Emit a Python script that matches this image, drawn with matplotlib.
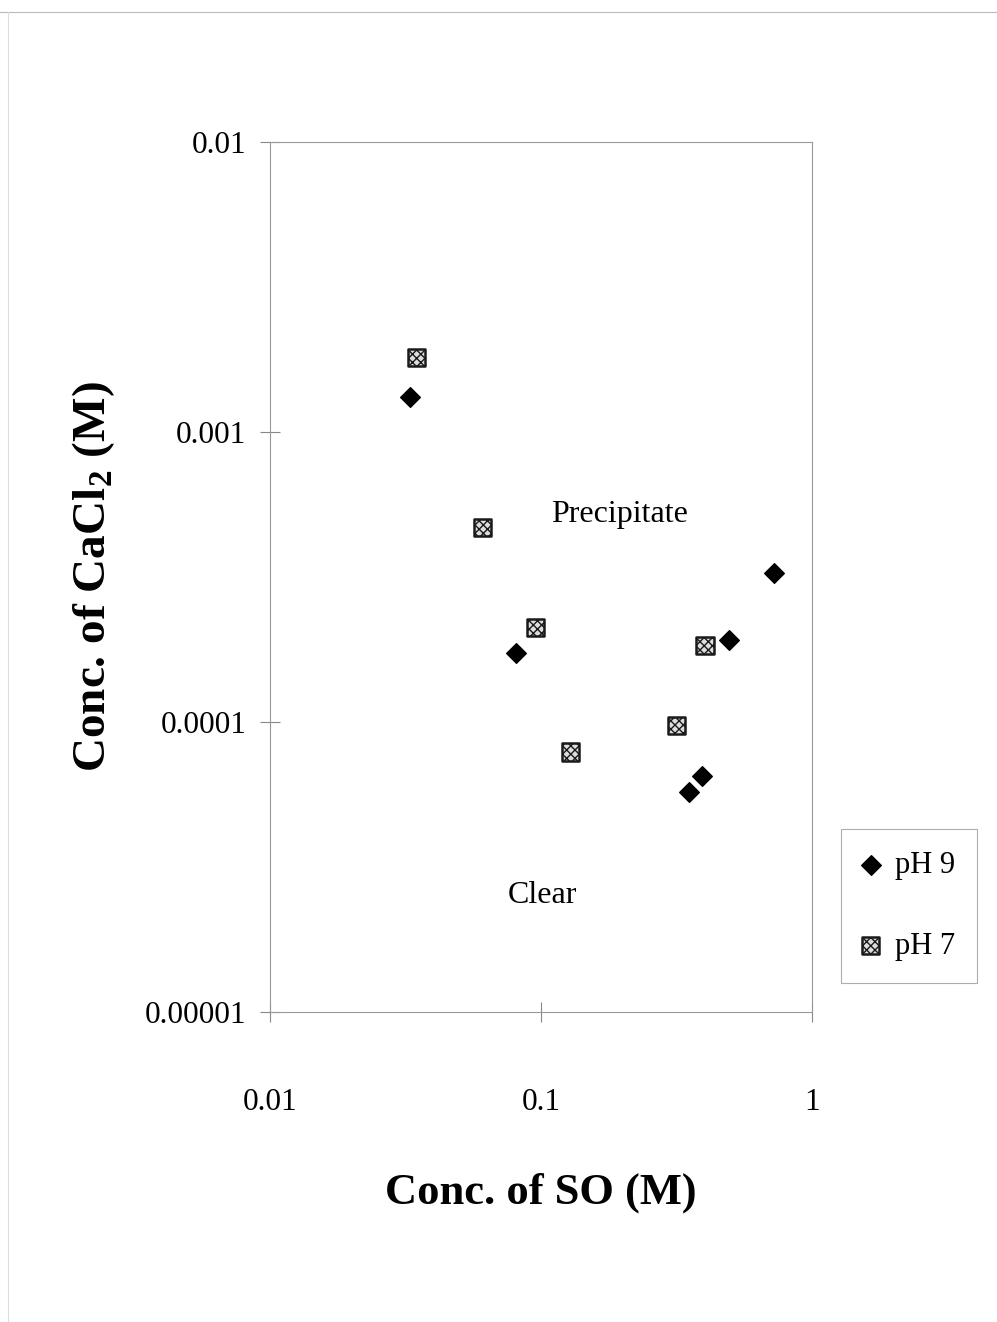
import matplotlib.pyplot as plt
from matplotlib.lines import Line2D

plt.rcParams['font.family'] = ['Liberation Serif', 'DejaVu Serif']
plt.rcParams['mathtext.fontset'] = 'custom'
plt.rcParams['mathtext.rm'] = 'Liberation Serif'
plt.rcParams['mathtext.bf'] = 'Liberation Serif:bold'

# pH 9 data (diamonds)
so_ph9 = [0.0329, 0.0809, 0.352, 0.393, 0.494, 0.725]
ca_ph9 = [1.32e-3, 1.73e-4, 5.74e-5, 6.51e-5, 1.92e-4, 3.27e-4]

# pH 7 data (squares)
so_ph7 = [0.0346, 0.0611, 0.0951, 0.129, 0.315, 0.403]
ca_ph7 = [1.80e-3, 4.70e-4, 2.11e-4, 7.88e-5, 9.69e-5, 1.84e-4]

y_ticks = [1e-5, 1e-4, 1e-3, 1e-2]
y_labels = ['0.00001', '0.0001', '0.001', '0.01']
x_ticks = [0.01, 0.1, 1]
x_labels = ['0.01', '0.1', '1']

fig = plt.figure(figsize=(9.97, 13.22), dpi=100)
ax = fig.add_axes([0.2708, 0.2345, 0.5436, 0.6581])

ax.scatter(so_ph9, ca_ph9, marker='D', s=100, color='black', zorder=3, label='pH 9')
ax.scatter(so_ph7, ca_ph7, marker='s', s=150, facecolor='#dddddd', edgecolor='#1a1a1a',
           hatch='xxxx', linewidths=1.8, zorder=3, label='pH 7')

ax.set_xscale('log')
ax.set_yscale('log')
ax.set_xlim(0.01, 1)
ax.set_ylim(1e-5, 1e-2)
ax.set_xticks(x_ticks)
ax.set_xticklabels(x_labels)
ax.set_yticks(y_ticks)
ax.set_yticklabels(y_labels)
ax.minorticks_off()
ax.tick_params(direction='inout', length=14, width=0.8, color='#888888', labelsize=22.5)
ax.tick_params(axis='x', pad=48)
ax.tick_params(axis='y', pad=10)
for sp in ax.spines.values():
    sp.set_color('#999999')
    sp.set_linewidth(0.8)

ax.text(0.195, 5.18e-4, 'Precipitate', fontsize=23, ha='center', va='center')
ax.text(0.101, 2.53e-5, 'Clear', fontsize=23, ha='center', va='center')

ax.set_xlabel('Conc. of SO (M)', fontsize=32, fontweight='bold', labelpad=40)
ax.set_ylabel('Conc. of CaCl$_\\mathbf{2}$ (M)', fontsize=34, fontweight='bold', labelpad=20)

leg = fig.legend(loc='center', bbox_to_anchor=(909 / 997, 1 - 906 / 1322),
                 fontsize=22, frameon=True, fancybox=False,
                 handletextpad=0.55, labelspacing=1.7, borderpad=0.72, handlelength=0.5)
leg.get_frame().set_edgecolor('#999999')
leg.get_frame().set_linewidth(0.8)

# page border lines
fig.add_artist(Line2D([0, 1], [1 - 12 / 1322, 1 - 12 / 1322], color='#bbbbbb', lw=0.8))
fig.add_artist(Line2D([8 / 997, 8 / 997], [0, 1 - 12 / 1322], color='#dddddd', lw=0.8))

fig.savefig('out.png', dpi=100)
